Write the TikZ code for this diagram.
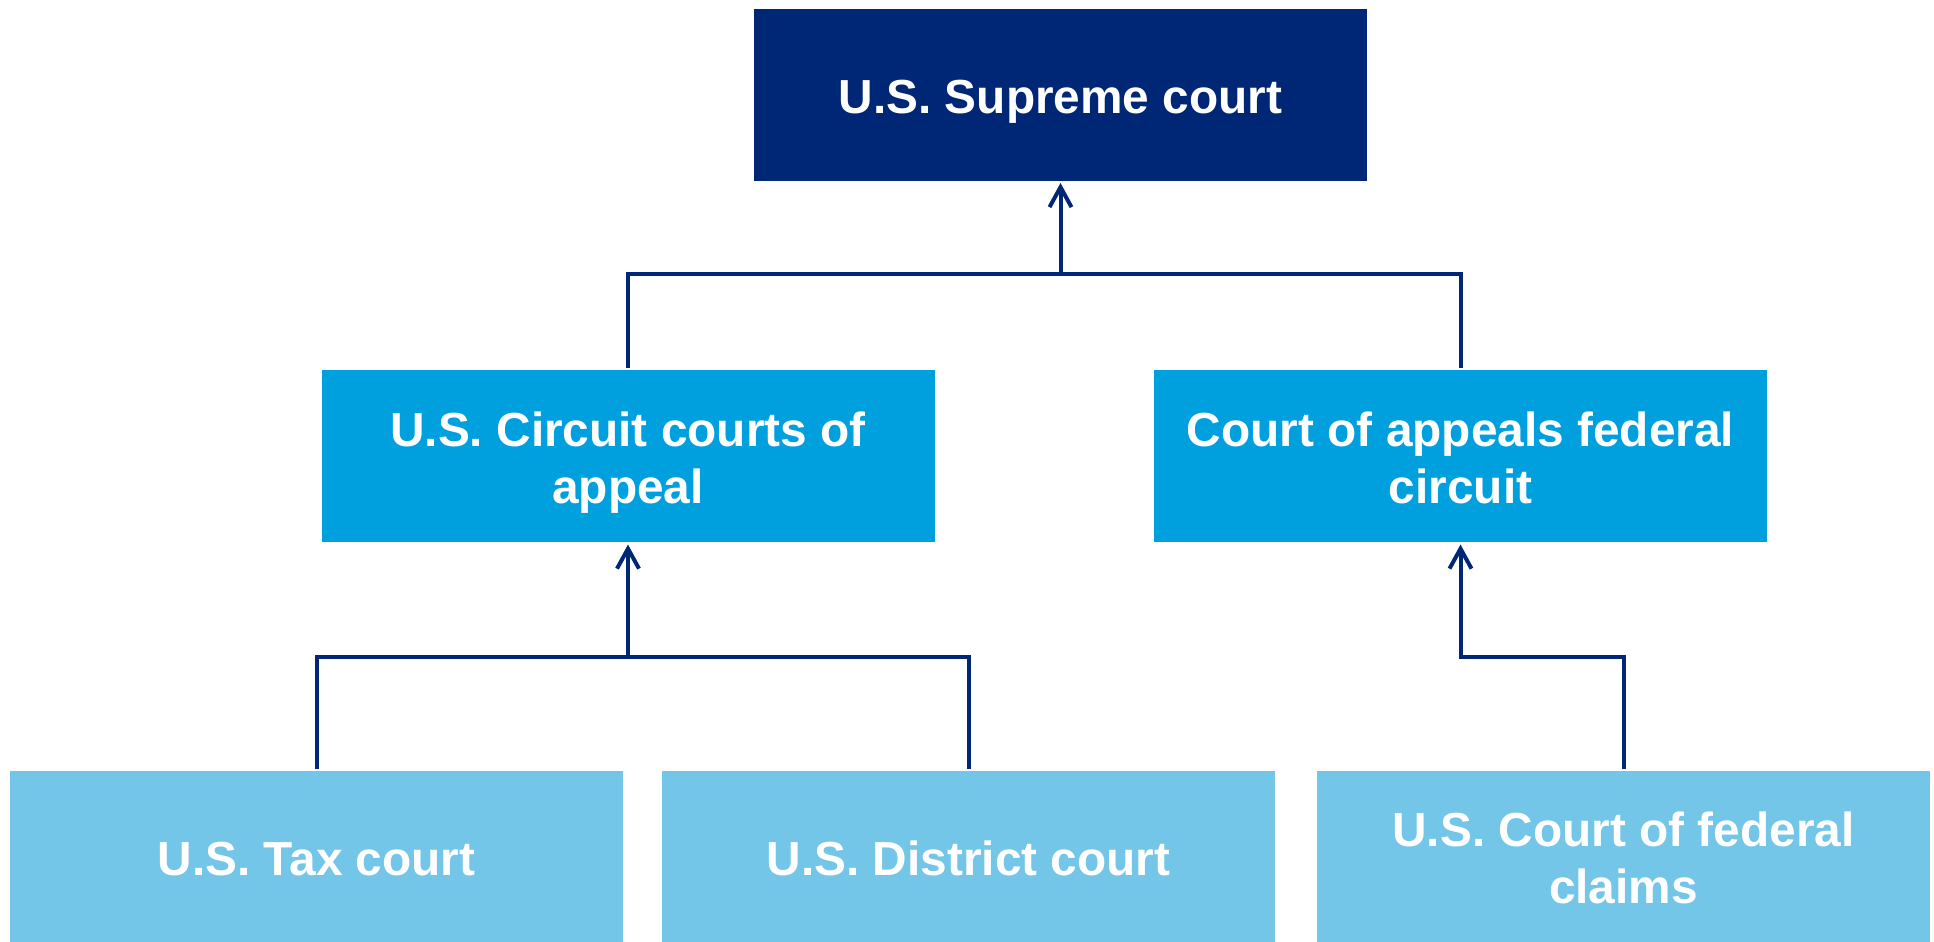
\documentclass[tikz,border=0pt]{standalone}
\usepackage{fontspec}
\setmainfont{Liberation Sans}
\usepackage{tikz}
\usetikzlibrary{arrows.meta}
\definecolor{navy}{HTML}{002776}
\definecolor{midblue}{HTML}{00A0DF}
\definecolor{lightblue}{HTML}{73C6E7}
% box from cap top to last baseline, so it sits centred in the box
\newcommand{\courttext}[1]{\raisebox{-0.5bp}[\dimexpr\height-2.85bp\relax][0pt]{\begin{tabular}[b]{@{}c@{}}#1\end{tabular}}}

\begin{document}
\begin{tikzpicture}[>={Straight Barb[length=10bp,width=11bp]},line join=miter, line width=2bp,
  court/.style={minimum width=306.5bp,minimum height=86bp,inner sep=0pt,text=white,
    font=\fontsize{23.9bp}{28.5bp}\selectfont\bfseries}]
\useasboundingbox (0bp,0bp) rectangle (967bp,471bp);
%%
\node (S) at (530.25bp,423.5bp) [court,fill=navy] {\courttext{U.S. Supreme court}};
  \node (CA) at (314bp,242.75bp) [court,fill=midblue] {\courttext{U.S. Circuit courts of\\appeal}};
  \node (FC) at (730.25bp,242.75bp) [court,fill=midblue] {\courttext{Court of appeals federal\\circuit}};
  \node (T) at (158.25bp,42.5bp) [court,fill=lightblue] {\courttext{U.S. Tax court}};
  \node (D) at (484.25bp,42.5bp) [court,fill=lightblue] {\courttext{U.S. District court}};
  \node (CL) at (811.75bp,42.5bp) [court,fill=lightblue] {\courttext{U.S. Court of federal\\claims}};
%
\coordinate (j1) at (530.25bp,334bp);
  \coordinate (j2) at (314bp,142.5bp);
  \coordinate (j3) at (730.25bp,142.5bp);
  \draw [navy] (CA.north) |- (j1) -| (FC.north);
  \draw [navy,->] (j1) -- (S.south);
  \draw [navy] (T.north) |- (j2) -| (D.north);
  \draw [navy,->] (j2) -- (CA.south);
  \draw [navy,->] (CL.north) |- (j3) -- (FC.south);
%
\end{tikzpicture}
\end{document}
